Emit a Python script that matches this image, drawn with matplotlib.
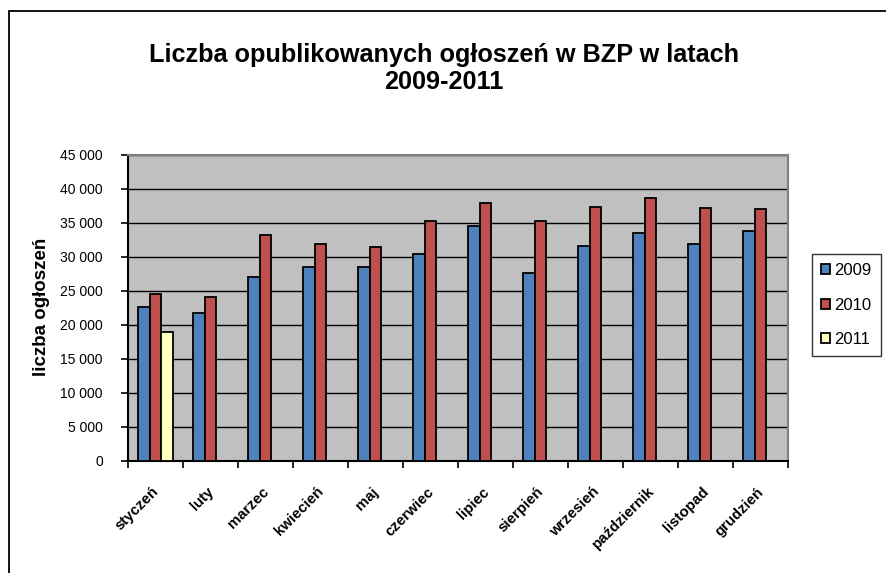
import matplotlib
matplotlib.use("Agg")
import matplotlib.pyplot as plt
import numpy as np
from matplotlib.patches import Rectangle
from matplotlib.ticker import FuncFormatter, FixedLocator

months = ["styczeń", "luty", "marzec", "kwiecień", "maj", "czerwiec", "lipiec",
          "sierpień", "wrzesień", "październik", "listopad", "grudzień"]
v2009 = [22600, 21700, 27000, 28500, 28500, 30500, 34600, 27600, 31650, 33500, 31950, 33750]
v2010 = [24600, 24100, 33200, 31950, 31400, 35300, 37950, 35300, 37300, 38700, 37250, 37000]
v2011 = [19000]
years = ["2009", "2010", "2011"]
colors = ["#4F81BD", "#C0504D", "#FFFFC0"]

plt.rcParams['font.family'] = ['Liberation Sans', 'DejaVu Sans']

W, H = 887, 573
fig = plt.figure(figsize=(W / 100, H / 100), dpi=100)
fig.patch.set_facecolor("white")

# outer chart frame
fig.patches.append(Rectangle((9 / W, -0.05), 1.1, 1 - 11 / H + 0.05, transform=fig.transFigure,
                             fill=False, ec="black", lw=1.3))

ax = fig.add_axes([128 / W, 1 - 461 / H, (788 - 128) / W, (461 - 155) / H])
ax.set_facecolor("#C0C0C0")

x = np.arange(len(months))
bw = 0.218
ax.bar(x[:len(v2009)] - bw, v2009, bw, color=colors[0], edgecolor="black", lw=1.3, label=years[0], zorder=3)
ax.bar(x[:len(v2010)], v2010, bw, color=colors[1], edgecolor="black", lw=1.3, label=years[1], zorder=3)
ax.bar(x[:len(v2011)] + bw, v2011, bw, color=colors[2], edgecolor="black", lw=1.3, label=years[2], zorder=3)

ax.set_xlim(-0.5, len(months) - 0.5)
ax.set_ylim(0, 45000)
ax.set_yticks(np.arange(0, 45001, 5000))
ax.yaxis.set_major_formatter(FuncFormatter(lambda v, p: "0" if v == 0 else f"{int(v):,}".replace(",", " ")))
ax.yaxis.grid(True, color="black", lw=1.0, zorder=1)
ax.set_axisbelow(True)

label_shift = 0.07  # small horizontal nudge of the rotated labels
ax.set_xticks(x - label_shift)
ax.set_xticklabels(months, rotation=45, ha="right", va="top", rotation_mode="anchor",
                   fontsize=10.8, fontweight="bold")
ax.xaxis.set_minor_locator(FixedLocator(np.arange(-0.5, len(months), 1)))
ax.tick_params(axis="x", which="major", length=0, pad=17)
ax.tick_params(axis="x", which="minor", length=5, width=1.2, color="black", direction="out")
ax.tick_params(axis="y", length=5, width=1.2, color="black", direction="out", pad=13, labelsize=10)

for s in ["left", "bottom"]:
    ax.spines[s].set_color("black")
    ax.spines[s].set_linewidth(1.5)
for s in ["top", "right"]:
    ax.spines[s].set_color("#808080")
    ax.spines[s].set_linewidth(1.5)

fig.text(42 / W, 1 - 307 / H, "liczba ogłoszeń", rotation=90, ha="center", va="center",
         fontsize=13.5, fontweight="bold")

fig.text(444 / W, 1 - 62 / H, "Liczba opublikowanych ogłoszeń w BZP w latach", ha="center", va="baseline",
         fontsize=18.2, fontweight="bold")
fig.text(444 / W, 1 - 89 / H, "2009-2011", ha="center", va="baseline", fontsize=18.2, fontweight="bold")

leg = fig.legend(loc="center left", bbox_to_anchor=(812 / W, 1 - 305 / H), fontsize=12,
                 frameon=True, fancybox=False, edgecolor="black", handlelength=0.55, handleheight=0.55,
                 handletextpad=0.25, labelspacing=1.15, borderpad=0.55, borderaxespad=0)
leg.get_frame().set_linewidth(1.0)

fig.savefig("out.png", dpi=100)
